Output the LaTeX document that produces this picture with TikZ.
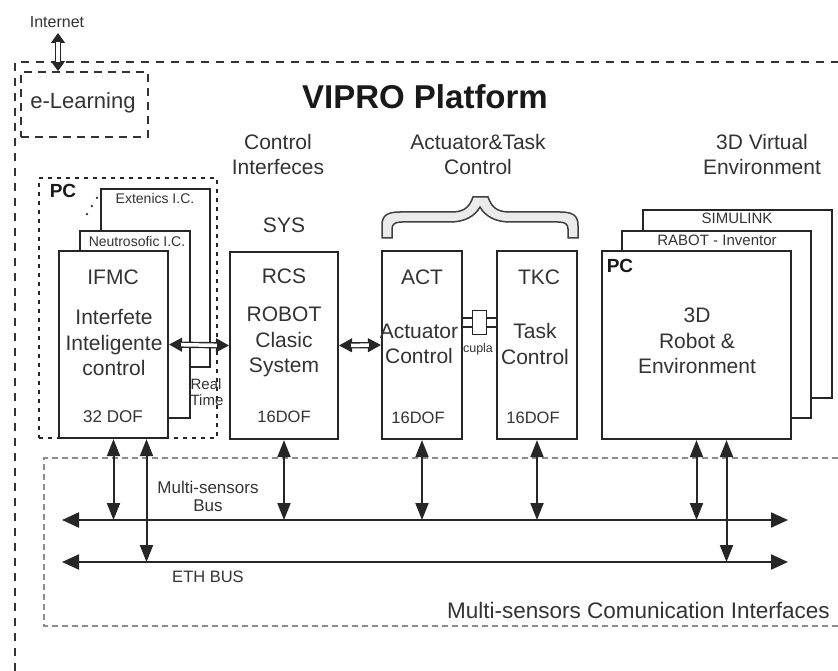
\documentclass[tikz,border=0pt]{standalone}
\usepackage{fontspec}
\setmainfont{Liberation Sans}
\usetikzlibrary{arrows.meta}

\begin{document}
\begin{tikzpicture}[x=1pt, y=-1pt,
  box/.style={draw=black!85, line width=2.2pt, fill=white, inner sep=0pt},
  txt/.style={inner sep=0pt, align=center, text=black!80, font=\fontsize{21}{25.5}\selectfont},
  dof/.style={inner sep=0pt, text=black!80, font=\fontsize{16.5}{20}\selectfont},
  small/.style={inner sep=0pt, align=center, text=black!80, font=\fontsize{14}{16}\selectfont},
  pclab/.style={inner sep=0pt, text=black!90, font=\bfseries\fontsize{19}{22}\selectfont},
  tips/.style={draw=black!85, line width=1pt,
    {Triangle[length=#1,width=14pt]}-{Triangle[length=#1,width=14pt]}},
  shaft/.style={draw=black!85, double=white, double distance=3.5pt, line width=1.4pt,
    shorten <=#1, shorten >=#1},
  biarrow/.style={draw=black!85, line width=2pt,
    {Triangle[length=17pt,width=13pt]}-{Triangle[length=17pt,width=13pt]}},
  bus/.style={draw=black!85, line width=2.2pt,
    {Triangle[length=17pt,width=15pt]}-{Triangle[length=17pt,width=15pt]}}]
\useasboundingbox (0,0) rectangle (838,671);

\draw[black!80, line width=1.8pt, dash pattern=on 8pt off 7pt] (15,671) -- (15,62) -- (838,62);
\node[draw=black!80, line width=1.8pt, dash pattern=on 8pt off 6pt, minimum width=127, minimum height=65] (elearn) at (84.5,104.5) {};
\node[txt, font=\fontsize{22}{26}\selectfont] (elt) at (83,103) {e-Learning};
\node[small, font=\fontsize{16}{18}\selectfont] (inet) at (57,22) {Internet};
\coordinate (inetB) at (58,33);
\draw[tips=10pt] (inetB) -- (inetB |- elearn.north);
\draw[shaft=9pt] (inetB) -- (inetB |- elearn.north);

\node[inner sep=0pt, text=black!90, font=\bfseries\fontsize{33}{38}\selectfont] (vipro) at (425,97) {VIPRO Platform};
\node[txt] (ctrlif) at (278,154.5) {Control\\Interfeces};
\node[txt] (acttask) at (478,154.5) {Actuator\&Task\\Control};
\node[txt] (virt) at (762,154.5) {3D Virtual\\Environment};
\node[txt] (sys) at (284,225) {SYS};

% PC with intelligent control
\node[draw=black!85, line width=2.5pt, dash pattern=on 4pt off 5pt, minimum width=178, minimum height=260] (pcleft) at (128,308) {};
\node[pclab] (pcl) at (63,191) {PC};
\node[box, minimum width=109, minimum height=178] (ext) at (155.5,278) {};
\node[small] (extl) at (155,198) {Extenics I.C.};
\node[box, minimum width=110, minimum height=187] (neu) at (135,324.5) {};
\node[small] (neul) at (137,241) {Neutrosofic I.C.};
\draw[black!85, line width=2.5pt, line cap=round, dash pattern=on 0pt off 9.5pt] ([shift={(-3,10)}]ext.north west) -- ([shift={(4,-9)}]neu.north west);
\node[box, minimum width=109, minimum height=187] (ifmc) at (113.5,344.5) {};
\node[txt] (ifmct) at (113,277) {IFMC};
\node[txt] (ifmcx) at (114,343) {Interfete\\Inteligente\\control};
\node[dof, font=\fontsize{17}{20}\selectfont] (ifmcd) at (113,417) {32 DOF};
\node[small, align=left, font=\fontsize{15}{16}\selectfont] (rt) at (207,392) {Real\\Time};

% robot clasic system
\node[box, minimum width=108, minimum height=187] (rcs) at (284,345.5) {};
\node[txt] (rcst) at (284,276) {RCS};
\node[txt] (rcsx) at (284,342) {ROBOT\\Clasic\\System};
\node[dof] (rcsd) at (284,417) {16DOF};

% actuator and task control
\node[box, minimum width=80, minimum height=188] (act) at (422,345) {};
\node[txt] (actt) at (422,277) {ACT};
\node[txt] (actx) at (419,344) {Actuator\\Control};
\node[dof] (actd) at (418,418) {16DOF};
\node[box, minimum width=80, minimum height=188] (tkc) at (537,345) {};
\node[txt] (tkct) at (539,277) {TKC};
\node[txt] (tkcx) at (535,344) {Task\\Control};
\node[dof] (tkcd) at (533,418) {16DOF};
\coordinate (cup) at (479.5,322.5);
\draw[draw=black!85, double=white, double distance=6.5pt, line width=1.8pt] (act.east |- cup) -- (tkc.west |- cup);
\node[box, line width=1.8pt, minimum width=14, minimum height=24] (cupla) at (cup) {};
\node[small, font=\fontsize{12.5}{14}\selectfont] (cupl) at (478,349) {cupla};
\filldraw[fill=black!8, draw=black!75, line width=1.5pt]
  (382,238) -- (382,225) .. controls (382,215) and (388,212) .. (400,212) -- (452,212)
  .. controls (466,212) and (470,205) .. (473,197) -- (488,197)
  .. controls (491,205) and (495,212) .. (509,212) -- (560,212)
  .. controls (572,212) and (578,215) .. (578,225) -- (578,238) -- (568,238) -- (568,229)
  .. controls (568,224) and (565,222) .. (558,222) -- (510,222)
  .. controls (495,222) and (485,216) .. (480,207)
  .. controls (475,216) and (465,222) .. (450,222) -- (402,222)
  .. controls (395,222) and (392,224) .. (392,229) -- (392,238) -- cycle;

% 3D virtual environment
\node[box, minimum width=189, minimum height=188] (simu) at (737.5,304) {};
\node[small, font=\fontsize{15}{17}\selectfont] (simul) at (737,218) {SIMULINK};
\node[box, minimum width=189, minimum height=187] (rabot) at (716.5,324.5) {};
\node[small, font=\fontsize{15}{17}\selectfont] (rabotl) at (717,240) {RABOT - Inventor};
\node[box, minimum width=189, minimum height=188] (pc3d) at (696.5,345) {};
\node[pclab] (pcr) at (620,266) {PC};
\node[txt] (pc3dx) at (697,341) {3D\\Robot \&\\Environment};

\draw[tips=13pt] (ifmc.east) -- (rcs.west);
\draw[shaft=12pt] (ifmc.east) -- (rcs.west);
\draw[tips=13pt] (rcs.east) -- (act.west);
\draw[shaft=12pt] (rcs.east) -- (act.west);

% communication interfaces
\draw[black!45, line width=1.2pt, dash pattern=on 6pt off 4pt] (838,458) -- (44,458) -- (44,626) -- (838,626);
\node[small, font=\fontsize{17}{18}\selectfont] (msbt) at (208,496) {Multi-sensors\\Bus};
\node[small, font=\fontsize{16.5}{18}\selectfont] (etht) at (208,577) {ETH BUS};
\node[small, anchor=east, font=\fontsize{22.5}{24}\selectfont] (msci) at (830,610) {Multi-sensors Comunication Interfaces};
\coordinate (msbL) at (62,520);
\coordinate (msbR) at (788,520);
\coordinate (ethL) at (62,562);
\coordinate (ethR) at (788,562);
\draw[bus] (msbL) -- (msbR);
\draw[bus] (ethL) -- (ethR);
\coordinate (ifmcB) at ([xshift=33pt]ifmc.south);
\coordinate (pc3dB) at ([xshift=30pt]pc3d.south);
\draw[biarrow] (ifmc.south) -- (ifmc.south |- msbL);
\draw[biarrow] (ifmcB) -- (ifmcB |- ethL);
\draw[biarrow] (rcs.south) -- (rcs.south |- msbL);
\draw[biarrow] (act.south) -- (act.south |- msbL);
\draw[biarrow] (tkc.south) -- (tkc.south |- msbL);
\draw[biarrow] (pc3d.south) -- (pc3d.south |- msbL);
\draw[biarrow] (pc3dB) -- (pc3dB |- ethL);
\end{tikzpicture}
\end{document}
